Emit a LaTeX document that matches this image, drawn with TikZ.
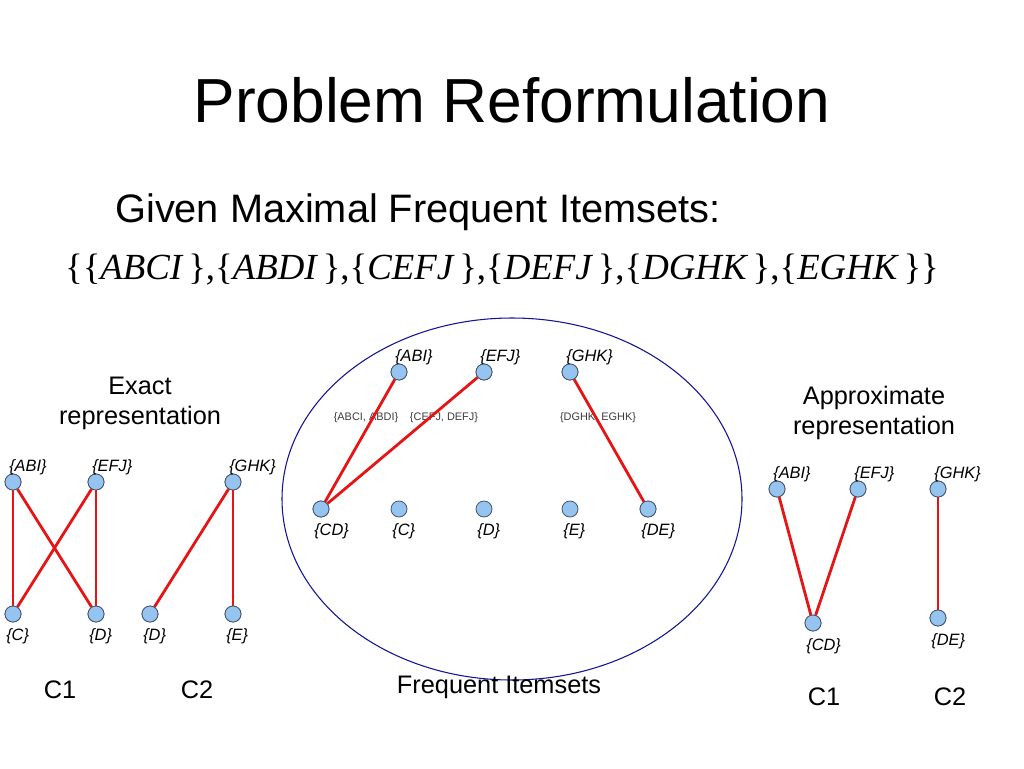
\documentclass[tikz,border=0pt]{standalone}
\usepackage{fontspec}
\setmainfont{Liberation Sans}
\newfontfamily\timesf{Liberation Serif}
\definecolor{nodefill}{RGB}{150,196,240}
\definecolor{nodedraw}{RGB}{70,85,110}
\definecolor{edgered}{RGB}{230,20,20}
\definecolor{ellblue}{RGB}{20,20,150}
\definecolor{smallgray}{RGB}{60,60,60}
\begin{document}
\begin{tikzpicture}[x=0.75pt,y=-0.75pt,
  vtx/.style={circle,inner sep=0pt,minimum size=12pt,fill=nodefill,draw=nodedraw,line width=0.6pt},
  edge/.style={draw=edgered,line width=2.1pt},
  lbl/.style={inner sep=0pt,font=\fontsize{12.3pt}{14pt}\selectfont\itshape},
  small/.style={inner sep=0pt,font=\fontsize{8.2pt}{10pt}\selectfont,text=smallgray},
  txt/.style={inner sep=0pt,font=\fontsize{19pt}{22.5pt}\selectfont,align=center}]
\useasboundingbox (0,0) rectangle (1024,768);
\fill[white] (0,0) rectangle (1024,768);

% title
\node[inner sep=0pt,font=\fontsize{46.7pt}{50pt}\selectfont] (title) at (512,100) {Problem Reformulation};
\node[inner sep=0pt,anchor=west,font=\fontsize{29.8pt}{32pt}\selectfont] (given) at (115,212) {Given Maximal Frequent Itemsets:};
\node[inner sep=0pt,font=\fontsize{27.6pt}{32pt}\timesf\selectfont] (sets) at (502,270)
 {\{\{\textit{ABCI\,}\},\{\textit{ABDI\,}\},\{\textit{CEFJ\,}\},\{\textit{DEFJ\,}\},\{\textit{DGHK\,}\},\{\textit{EGHK\,}\}\}};

% ellipse
\draw[ellblue,line width=0.8pt] (512,499) ellipse [x radius=230, y radius=181];

% ---------- middle ----------
\node[vtx] (mABI) at (399,372) {};
\node[vtx] (mEFJ) at (484,372) {};
\node[vtx] (mGHK) at (570,372) {};
\node[vtx] (mCD) at (321,509) {};
\node[vtx] (mC) at (399,509) {};
\node[vtx] (mD) at (484,509) {};
\node[vtx] (mE) at (570,509) {};
\node[vtx] (mDE) at (648,509) {};
\node[lbl,anchor=base west] (lmABI) at (395,361) {\{ABI\}};
\node[lbl,anchor=base west] (lmEFJ) at (480,361) {\{EFJ\}};
\node[lbl,anchor=base west] (lmGHK) at (566,361) {\{GHK\}};
\node[lbl,anchor=base west] (lmCD) at (314,535) {\{CD\}};
\node[lbl,anchor=base west] (lmC) at (392,535) {\{C\}};
\node[lbl,anchor=base west] (lmD) at (477,535) {\{D\}};
\node[lbl,anchor=base west] (lmE) at (563,535) {\{E\}};
\node[lbl,anchor=base west] (lmDE) at (641,535) {\{DE\}};
\node[small] (e1) at (366,418) {\{ABCI, ABDI\}};
\node[small] (e2) at (444,418) {\{CEFJ, DEFJ\}};
\node[small] (e3) at (598,418) {\{DGHK, EGHK\}};
\draw[edge] (mABI) -- (mCD);
\draw[edge] (mEFJ) -- (mCD);
\draw[edge] (mGHK) -- (mDE);
\node[vtx] at (mCD) {};
\node[vtx] at (mABI) {};
\node[vtx] at (mEFJ) {};
\node[vtx] at (mGHK) {};
\node[vtx] at (mDE) {};
\node[txt] (fi) at (499,687) {Frequent Itemsets};

% ---------- left ----------
\node[vtx] (lABI) at (13,482) {};
\node[vtx] (lEFJ) at (96,482) {};
\node[vtx] (lGHK) at (233,482) {};
\node[vtx] (lC) at (13,614) {};
\node[vtx] (lD) at (96,614) {};
\node[vtx] (lD2) at (150,614) {};
\node[vtx] (lE) at (233,614) {};
\draw[edge] (lABI) -- (lC);
\draw[edge] (lABI) -- (lD);
\draw[edge] (lEFJ) -- (lC);
\draw[edge] (lEFJ) -- (lD);
\draw[edge] (lGHK) -- (lD2);
\draw[edge] (lGHK) -- (lE);
\foreach \n in {lABI,lEFJ,lGHK,lC,lD,lD2,lE} {\node[vtx] at (\n) {};}
\node[lbl,anchor=base west] (llABI) at (9,471) {\{ABI\}};
\node[lbl,anchor=base west] (llEFJ) at (92,471) {\{EFJ\}};
\node[lbl,anchor=base west] (llGHK) at (229,471) {\{GHK\}};
\node[lbl,anchor=base west] (llC) at (6,640) {\{C\}};
\node[lbl,anchor=base west] (llD) at (89,640) {\{D\}};
\node[lbl,anchor=base west] (llD2) at (143,640) {\{D\}};
\node[lbl,anchor=base west] (llE) at (226,640) {\{E\}};
\node[txt] (exact) at (140,403) {Exact\\representation};
\node[txt] (lc1) at (60,690) {C1};
\node[txt] (lc2) at (197,690) {C2};

% ---------- right ----------
\node[vtx] (rABI) at (777,489) {};
\node[vtx] (rEFJ) at (858,489) {};
\node[vtx] (rGHK) at (938,489) {};
\node[vtx] (rCD) at (813,623) {};
\node[vtx] (rDE) at (938,618) {};
\draw[edge] (rABI) -- (rCD);
\draw[edge] (rEFJ) -- (rCD);
\draw[edge] (rGHK) -- (rDE);
\foreach \n in {rABI,rEFJ,rGHK,rCD,rDE} {\node[vtx] at (\n) {};}
\node[lbl,anchor=base west] (lrABI) at (773,478) {\{ABI\}};
\node[lbl,anchor=base west] (lrEFJ) at (854,478) {\{EFJ\}};
\node[lbl,anchor=base west] (lrGHK) at (934,478) {\{GHK\}};
\node[lbl,anchor=base west] (lrCD) at (806,650) {\{CD\}};
\node[lbl,anchor=base west] (lrDE) at (931,645) {\{DE\}};
\node[txt] (approx) at (874,413) {Approximate\\representation};
\node[txt] (rc1) at (824,697) {C1};
\node[txt] (rc2) at (950,697) {C2};
\end{tikzpicture}
\end{document}
